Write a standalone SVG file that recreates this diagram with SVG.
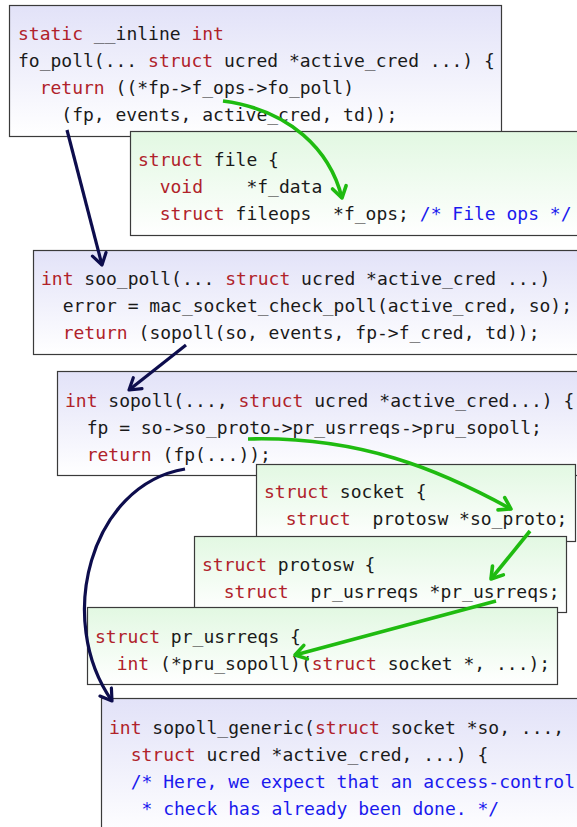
<svg xmlns="http://www.w3.org/2000/svg" width="577" height="827" viewBox="0 0 577 827">
  <style>
    .box { stroke: #3a3a3a; stroke-width: 1.2; }
    .blue { fill: url(#gBlue); }
    .green { fill: url(#gGreen); }
    text { font-family: "DejaVu Sans Mono", "Liberation Mono", monospace; font-size: 18px; fill: #1a1a1a; white-space: pre; }
    .kw { fill: #b0222a; }
    .cm { fill: #1a1aee; }
    .nav { fill: none; stroke: #0d0d4d; stroke-width: 3.2; marker-end: url(#headNavy); }
    .grn { fill: none; stroke: #1fbb10; stroke-width: 3.6; marker-end: url(#headGreen); }
  </style>
  <defs>
    <linearGradient id="gBlue" x1="0" y1="0" x2="0" y2="1">
      <stop offset="0" stop-color="#e2e2f8"/>
      <stop offset="1" stop-color="#ffffff"/>
    </linearGradient>
    <linearGradient id="gGreen" x1="0" y1="0" x2="0" y2="1">
      <stop offset="0" stop-color="#e2f8e2"/>
      <stop offset="1" stop-color="#ffffff"/>
    </linearGradient>
    <marker id="headNavy" markerUnits="userSpaceOnUse" markerWidth="20" markerHeight="20" viewBox="-14 -10 20 20" refX="0" refY="0" orient="auto">
      <path d="M-11,-7 L0,0 L-11,7" fill="none" stroke="#0d0d4d" stroke-width="3.2" stroke-linecap="round" stroke-linejoin="round"/>
    </marker>
    <marker id="headGreen" markerUnits="userSpaceOnUse" markerWidth="20" markerHeight="20" viewBox="-14 -10 20 20" refX="0" refY="0" orient="auto">
      <path d="M-11,-7 L0,0 L-11,7" fill="none" stroke="#1fbb10" stroke-width="3.6" stroke-linecap="round" stroke-linejoin="round"/>
    </marker>
  </defs>

  <rect width="577" height="827" fill="#ffffff"/>

  <g id="fo_poll">
    <rect class="box blue" x="9.5" y="5.5" width="492" height="131"/>
    <text x="18" y="40"><tspan class="kw">static</tspan> __inline <tspan class="kw">int</tspan></text>
    <text x="18" y="67">fo_poll(... <tspan class="kw">struct</tspan> ucred *active_cred ...) {</text>
    <text x="18" y="94">  <tspan class="kw">return</tspan> ((*fp-&gt;f_ops-&gt;fo_poll)</text>
    <text x="18" y="121">    (fp, events, active_cred, td));</text>
  </g>

  <g id="struct_file">
    <rect class="box green" x="130.5" y="131.5" width="460" height="104"/>
    <text x="138" y="166"><tspan class="kw">struct</tspan> file {</text>
    <text x="138" y="193">  <tspan class="kw">void</tspan>    *f_data</text>
    <text x="138" y="220">  <tspan class="kw">struct</tspan> fileops  *f_ops; <tspan class="cm">/* File ops */</tspan></text>
  </g>

  <g id="soo_poll">
    <rect class="box blue" x="33.5" y="250.5" width="560" height="104"/>
    <text x="41" y="285"><tspan class="kw">int</tspan> soo_poll(... <tspan class="kw">struct</tspan> ucred *active_cred ...)</text>
    <text x="41" y="312">  error = mac_socket_check_poll(active_cred, so);</text>
    <text x="41" y="339">  <tspan class="kw">return</tspan> (sopoll(so, events, fp-&gt;f_cred, td));</text>
  </g>

  <g id="sopoll">
    <rect class="box blue" x="57.5" y="371.5" width="530" height="104"/>
    <text x="65" y="407"><tspan class="kw">int</tspan> sopoll(..., <tspan class="kw">struct</tspan> ucred *active_cred...) {</text>
    <text x="65" y="434">  fp = so-&gt;so_proto-&gt;pr_usrreqs-&gt;pru_sopoll;</text>
    <text x="65" y="461">  <tspan class="kw">return</tspan> (fp(...));</text>
  </g>

  <g id="struct_socket">
    <rect class="box green" x="256.5" y="464.5" width="319" height="77"/>
    <text x="264" y="498"><tspan class="kw">struct</tspan> socket {</text>
    <text x="264" y="525">  <tspan class="kw">struct</tspan>  protosw *so_proto;</text>
  </g>

  <g id="struct_protosw">
    <rect class="box green" x="194.5" y="536.5" width="372" height="76"/>
    <text x="202" y="571"><tspan class="kw">struct</tspan> protosw {</text>
    <text x="202" y="598">  <tspan class="kw">struct</tspan>  pr_usrreqs *pr_usrreqs;</text>
  </g>

  <g id="struct_pr_usrreqs">
    <rect class="box green" x="87.5" y="607.5" width="470" height="77"/>
    <text x="95" y="643"><tspan class="kw">struct</tspan> pr_usrreqs {</text>
    <text x="95" y="670">  <tspan class="kw">int</tspan> (*pru_sopoll)(<tspan class="kw">struct</tspan> socket *, ...);</text>
  </g>

  <g id="sopoll_generic">
    <rect class="box blue" x="101.5" y="698.5" width="500" height="140"/>
    <text x="109" y="734"><tspan class="kw">int</tspan> sopoll_generic(<tspan class="kw">struct</tspan> socket *so, ...,</text>
    <text x="109" y="761">  <tspan class="kw">struct</tspan> ucred *active_cred, ...) {</text>
    <text x="109" y="788">  <tspan class="cm">/* Here, we expect that an access-control</tspan></text>
    <text x="109" y="815">   <tspan class="cm">* check has already been done. */</tspan></text>
  </g>

  <g id="connectors">
    <path class="nav" d="M67,130 L102,265"/>
    <path class="grn" d="M223,101 C290,110 330,150 342,198"/>
    <path class="nav" d="M186,345 L129,390"/>
    <path class="grn" d="M248,439 C360,436 440,470 511,509"/>
    <path class="grn" d="M530,531 L491,579"/>
    <path class="grn" d="M496,601 L295,655"/>
    <path class="nav" d="M185,469 C90,485 55,620 112,701"/>
  </g>
</svg>
